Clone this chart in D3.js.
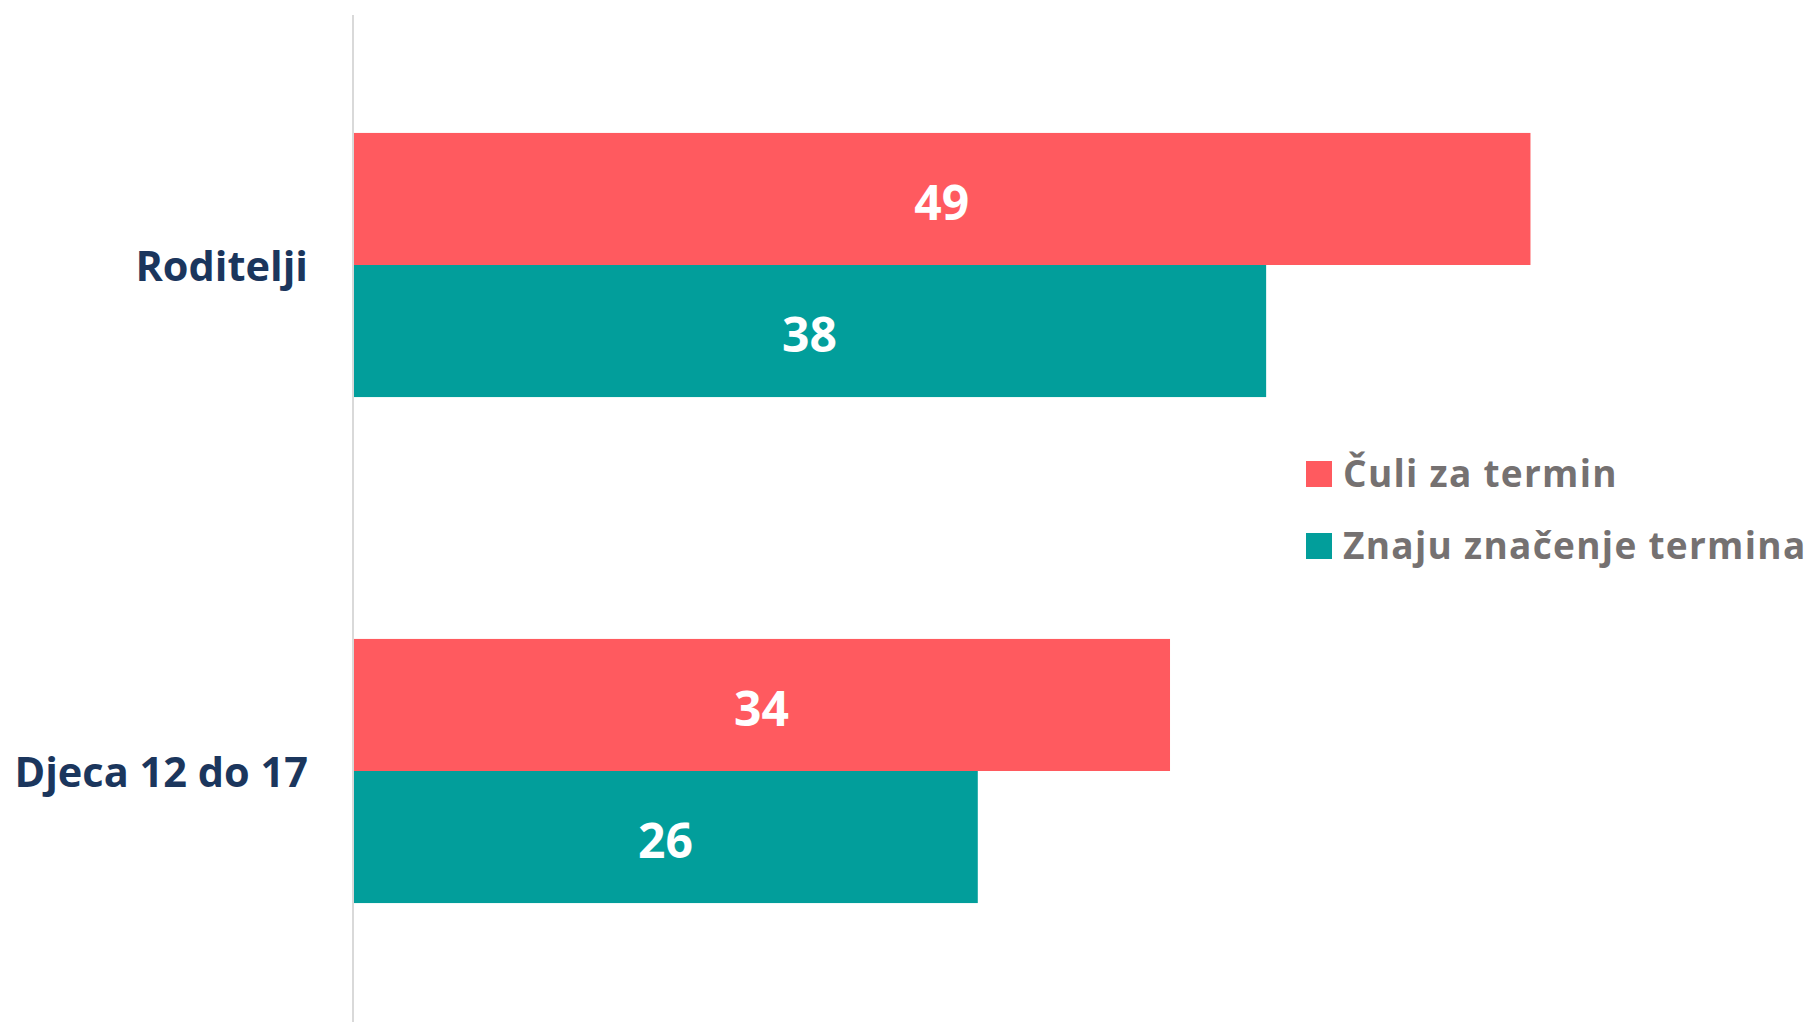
<!DOCTYPE html>
<html>
<head>
<meta charset="utf-8">
<script src="https://cdn.jsdelivr.net/npm/d3@7"></script>
<style>
  html, body { margin: 0; padding: 0; background: #ffffff; }
  svg { display: block; }
</style>
</head>
<body>
<svg id="chart" width="1815" height="1022"></svg>
<script>
// Categories (top to bottom) and the two series shown for each
const categories = ["Roditelji", "Djeca 12 do 17"];
const seriesNames = ["Čuli za termin", "Znaju značenje termina"];
const culiValues = [49, 34];
const znajuValues = [38, 26];
const seriesColors = ["#FF5A5F", "#029E9B"];

const width = 1815, height = 1022;
const svg = d3.select("#chart");
const font = "'Open Sans', 'Noto Sans', sans-serif";

const rows = categories.map((c, i) => ({
  category: c,
  values: [culiValues[i], znajuValues[i]]
}));

// Scales
const x = d3.scaleLinear().domain([0, 50]).range([353, 353 + 50 * 24.03]);
const y = d3.scaleBand().domain(categories).range([12, 1024])
  .paddingInner(0.478).paddingOuter(0.239);
const ySub = d3.scaleBand().domain(seriesNames).range([0, y.bandwidth()]).padding(0);

// Bars
const groups = svg.append("g").selectAll("g")
  .data(rows).join("g")
  .attr("transform", d => `translate(0,${y(d.category)})`);

groups.selectAll("rect")
  .data(d => d.values.map((v, k) => ({ v, k })))
  .join("rect")
  .attr("x", x(0))
  .attr("y", d => ySub(seriesNames[d.k]))
  .attr("width", d => x(d.v) - x(0))
  .attr("height", ySub.bandwidth())
  .attr("fill", d => seriesColors[d.k]);

// Value labels centred inside each bar
groups.selectAll("text")
  .data(d => d.values.map((v, k) => ({ v, k })))
  .join("text")
  .attr("x", d => (x(0) + x(d.v)) / 2)
  .attr("y", d => ySub(seriesNames[d.k]) + ySub.bandwidth() / 2)
  .attr("dy", "0.43em")
  .attr("text-anchor", "middle")
  .attr("font-family", font)
  .attr("font-weight", 700)
  .attr("font-size", 48)
  .attr("fill", "#ffffff")
  .text(d => d.v);

// Category axis on the left
const yAxis = d3.axisLeft(y).tickSize(0).tickPadding(45);
const axisG = svg.append("g")
  .attr("transform", `translate(${x(0)},0)`)
  .call(yAxis);
axisG.select(".domain").remove();
axisG.selectAll("text")
  .attr("font-family", font)
  .attr("font-weight", 700)
  .attr("font-size", 41.5)
  .attr("fill", "#1B365D")
  .attr("dy", "0.38em");

svg.append("line")
  .attr("x1", x(0)).attr("x2", x(0))
  .attr("y1", 15).attr("y2", height)
  .attr("stroke", "#d9d9d9")
  .attr("stroke-width", 2);

// Legend
const legend = svg.append("g").attr("transform", "translate(1306,461)");
const items = legend.selectAll("g")
  .data(seriesNames).join("g")
  .attr("transform", (d, i) => `translate(0,${i * 72})`);
items.append("rect")
  .attr("width", 26).attr("height", 26)
  .attr("fill", (d, i) => seriesColors[i]);
items.append("text")
  .attr("x", 37).attr("y", 26)
  .attr("font-family", font)
  .attr("font-weight", 700)
  .attr("font-size", 37)
  .attr("letter-spacing", 1.3)
  .attr("fill", "#757171")
  .text(d => d);
</script>
</body>
</html>
